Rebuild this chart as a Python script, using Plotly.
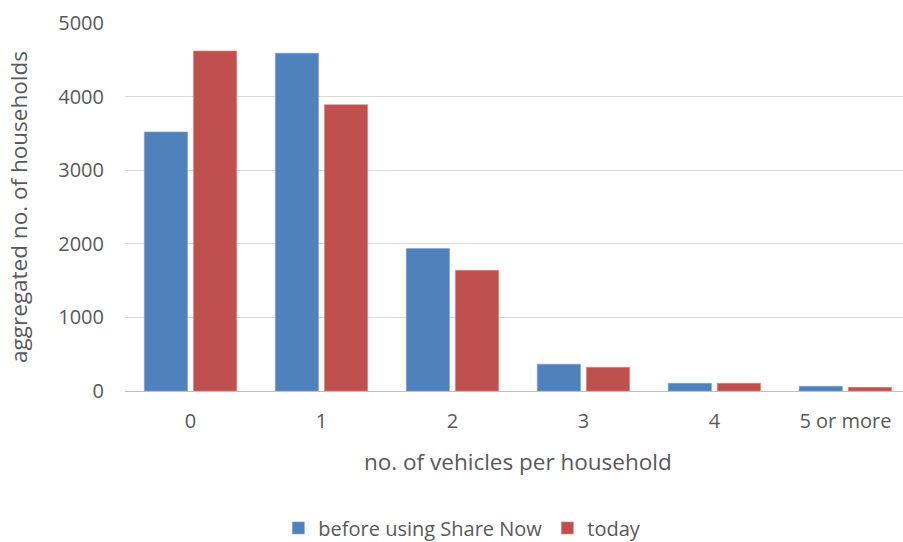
import plotly.graph_objects as go

categories = ["0", "1", "2", "3", "4", "5 or more"]
before_values = [3520, 4590, 1935, 365, 105, 64]
today_values = [4620, 3890, 1640, 323, 105, 50]
y_ticks = [0, 1000, 2000, 3000, 4000, 5000]

FONT = "Open Sans, Noto Sans, sans-serif"
GRAY = "#595959"

fig = go.Figure()
fig.add_trace(go.Bar(x=categories, y=before_values, name="before using Share Now",
                     marker=dict(color="#4f81bd", line=dict(color="#7ea2d2", width=0.6))))
fig.add_trace(go.Bar(x=categories, y=today_values, name="today",
                     marker=dict(color="#c0504d", line=dict(color="#d98481", width=0.6))))

fig.update_layout(
    width=903, height=542,
    margin=dict(l=124.5, r=0, t=22.5, b=151),
    plot_bgcolor="white", paper_bgcolor="white",
    barmode="group", bargap=0.25, bargroupgap=0.12,
    font=dict(family=FONT, color=GRAY, size=20),
    showlegend=True,
    legend=dict(orientation="h", xref="container", yref="container",
                x=0.512, y=0.026, xanchor="center", yanchor="middle",
                font=dict(size=20, color=GRAY), itemwidth=30, traceorder="normal"),
)
fig.update_xaxes(
    type="category", range=[-0.5, 5.44],
    showline=True, linecolor="#bfbfbf", linewidth=1.2,
    showgrid=False, ticks="", ticklabelstandoff=12,
    tickfont=dict(size=20, color=GRAY),
)
fig.update_yaxes(
    range=[0, 5000], tickvals=y_ticks,
    showgrid=True, gridcolor="#d9d9d9", gridwidth=1.2,
    zeroline=False, showline=False, ticks="",
    ticklabelstandoff=20,
    tickfont=dict(size=20, color=GRAY),
    title=dict(text="aggregated no. of households", font=dict(size=22.5, color=GRAY), standoff=24),
)
plot_h = 542 - 22.5 - 151
fig.add_annotation(text="no. of vehicles per household", x=2.5, xref="x",
                   y=(391 - 462) / plot_h, yref="paper", showarrow=False,
                   font=dict(size=22.5, color=GRAY), yanchor="middle")

fig.write_html("out.html")
